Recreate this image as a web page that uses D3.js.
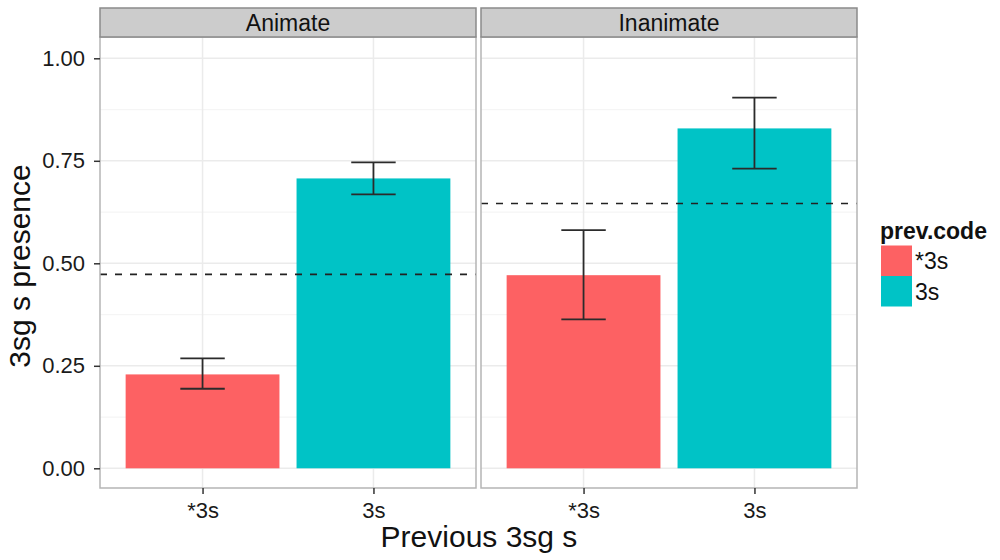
<!DOCTYPE html>
<html><head><meta charset="utf-8">
<script src="https://cdn.jsdelivr.net/npm/d3@7"></script>
<style>body{margin:0;background:#fff;} text{font-family:"Liberation Sans",Arial,sans-serif;}</style>
</head><body>
<svg id="c" width="1000" height="560"></svg>
<script>
const panels = ["Animate", "Inanimate"];
const categories = ["*3s", "3s"];
const means = [[0.229, 0.707], [0.471, 0.829]];
const lower = [[0.194, 0.668], [0.363, 0.731]];
const upper = [[0.268, 0.746], [0.581, 0.904]];
const baseline = [0.473, 0.646];
const yTicks = [0, 0.25, 0.5, 0.75, 1.0];
const yMinor = [0.125, 0.375, 0.625, 0.875];
const colors = ["#FD6163", "#00C3C6"];
const legendTitle = "prev.code";
const xTitle = "Previous 3sg s";
const yTitle = "3sg s presence";

const svg = d3.select("#c");
const panelTop = 37, panelBottom = 488, stripTop = 8;
const panelX = [[100, 476], [481, 857]];
const y = d3.scaleLinear().domain([0, 1]).range([468.3, 58.3]);
const color = d3.scaleOrdinal().domain(categories).range(colors);

panels.forEach((p, i) => {
  const [x0, x1] = panelX[i];
  const x = d3.scalePoint().domain(categories).range([x0, x1]).padding(0.6);
  const step = x.step();
  const g = svg.append("g");
  g.append("rect").attr("x", x0).attr("y", panelTop).attr("width", x1 - x0).attr("height", panelBottom - panelTop).attr("fill", "#fff");
  g.selectAll(".mn").data(yMinor).enter().append("line")
    .attr("x1", x0).attr("x2", x1).attr("y1", d => y(d)).attr("y2", d => y(d))
    .attr("stroke", "#f5f5f5").attr("stroke-width", 1.2);
  g.selectAll(".mj").data(yTicks).enter().append("line")
    .attr("x1", x0).attr("x2", x1).attr("y1", d => y(d)).attr("y2", d => y(d))
    .attr("stroke", "#ebebeb").attr("stroke-width", 1.5);
  g.selectAll(".vx").data(categories).enter().append("line")
    .attr("x1", d => x(d)).attr("x2", d => x(d)).attr("y1", panelTop).attr("y2", panelBottom)
    .attr("stroke", "#ebebeb").attr("stroke-width", 1.5);
  const bw = step * 0.9;
  g.selectAll(".bar").data(categories).enter().append("rect")
    .attr("x", d => x(d) - bw / 2).attr("width", bw)
    .attr("y", (d, j) => y(means[i][j])).attr("height", (d, j) => y(0) - y(means[i][j]))
    .attr("fill", d => color(d));
  g.append("line").attr("x1", x0).attr("x2", x1).attr("y1", y(baseline[i])).attr("y2", y(baseline[i]))
    .attr("stroke", "#222").attr("stroke-width", 1.6).attr("stroke-dasharray", "7,8");
  const cw = step * 0.26;
  categories.forEach((c, j) => {
    const cx = x(c);
    const eg = g.append("g").attr("stroke", "#2b2b2b").attr("stroke-width", 1.8);
    eg.append("line").attr("x1", cx).attr("x2", cx).attr("y1", y(upper[i][j])).attr("y2", y(lower[i][j]));
    eg.append("line").attr("x1", cx - cw / 2).attr("x2", cx + cw / 2).attr("y1", y(upper[i][j])).attr("y2", y(upper[i][j]));
    eg.append("line").attr("x1", cx - cw / 2).attr("x2", cx + cw / 2).attr("y1", y(lower[i][j])).attr("y2", y(lower[i][j]));
  });
  g.append("rect").attr("x", x0).attr("y", panelTop).attr("width", x1 - x0).attr("height", panelBottom - panelTop)
    .attr("fill", "none").attr("stroke", "#b5b5b5").attr("stroke-width", 1.5);
  g.append("rect").attr("x", x0).attr("y", stripTop).attr("width", x1 - x0).attr("height", panelTop - stripTop)
    .attr("fill", "#cccccc").attr("stroke", "#8a8a8a").attr("stroke-width", 1.5);
  g.append("text").attr("x", (x0 + x1) / 2).attr("y", 31).attr("text-anchor", "middle")
    .attr("font-size", 23).attr("fill", "#111").text(p);
  const xa = g.append("g").attr("transform", `translate(0,${panelBottom})`)
    .call(d3.axisBottom(x).tickSize(6).tickPadding(8));
  xa.select(".domain").remove();
  xa.selectAll(".tick line").attr("stroke", "#333").attr("stroke-width", 1.5);
  xa.selectAll(".tick text").attr("font-size", 22).attr("fill", "#1a1a1a")
    .attr("font-family", "Liberation Sans, Arial, sans-serif");
});

const ya = svg.append("g").attr("transform", `translate(${panelX[0][0]},0)`)
  .call(d3.axisLeft(y).tickValues(yTicks).tickFormat(d3.format(".2f")).tickSize(6).tickPadding(9));
ya.select(".domain").remove();
ya.selectAll(".tick line").attr("stroke", "#333").attr("stroke-width", 1.5);
ya.selectAll(".tick text").attr("font-size", 22).attr("fill", "#1a1a1a")
  .attr("font-family", "Liberation Sans, Arial, sans-serif");

svg.append("text").attr("x", 479).attr("y", 547).attr("text-anchor", "middle")
  .attr("font-size", 30).attr("fill", "#111").text(xTitle);
svg.append("text").attr("transform", "translate(30,266) rotate(-90)").attr("text-anchor", "middle")
  .attr("font-size", 30).attr("fill", "#111").text(yTitle);

const lg = svg.append("g");
lg.append("text").attr("x", 880).attr("y", 239).attr("font-size", 23).attr("font-weight", "bold")
  .attr("fill", "#111").text(legendTitle);
categories.forEach((c, j) => {
  lg.append("rect").attr("x", 881).attr("y", 245.5 + j * 30.5).attr("width", 31).attr("height", 30.5)
    .attr("fill", color(c));
  lg.append("text").attr("x", 915).attr("y", 269 + j * 30.5).attr("font-size", 23).attr("fill", "#111").text(c);
});
</script>
</body></html>
